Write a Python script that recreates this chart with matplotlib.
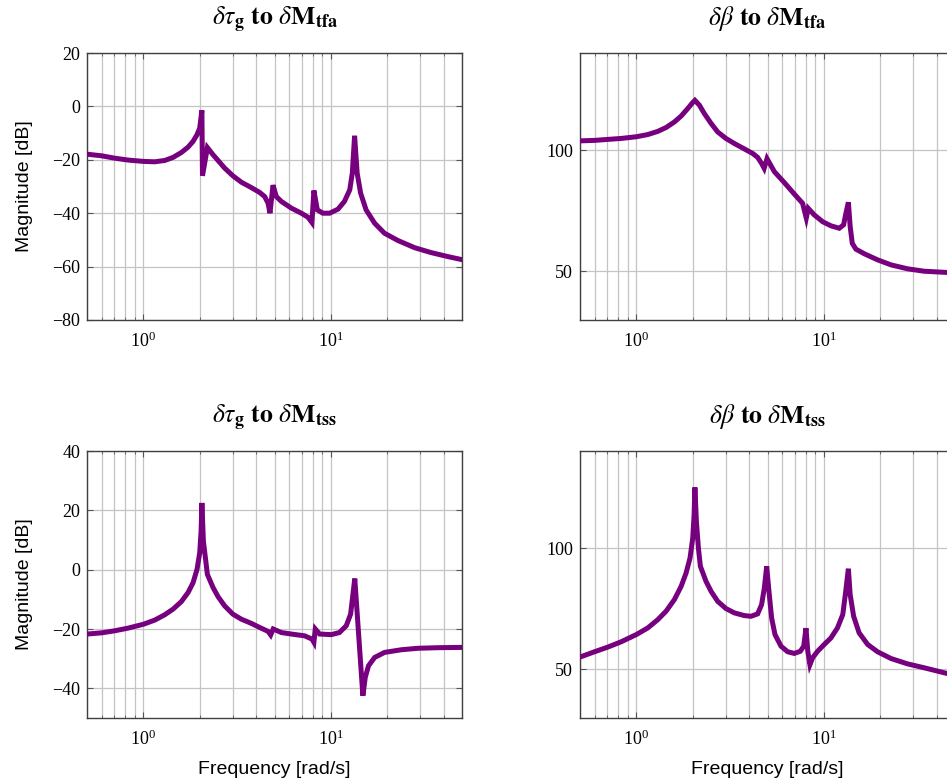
import matplotlib
matplotlib.use("Agg")
import matplotlib.pyplot as plt
from matplotlib.ticker import LogLocator, NullFormatter

plt.rcParams['font.family'] = ['Liberation Serif', 'DejaVu Serif']
plt.rcParams['mathtext.fontset'] = 'stix'
plt.rcParams['axes.unicode_minus'] = True

# delta tau_g -> delta M_tfa
w_tg_tfa = [0.5, 0.598, 0.703, 0.829, 1.0, 1.149, 1.299, 1.439, 1.594, 1.73, 1.839, 1.931, 1.996,
            2.05, 2.065, 2.193, 2.35, 2.5, 2.71, 3.0, 3.33, 3.76, 4.17, 4.43, 4.62, 4.73,
            4.91, 5.11, 5.44, 6.15, 6.95, 7.54, 7.92, 8.11, 8.46, 9.06, 9.84, 10.9, 11.8,
            12.6, 13.0, 13.37, 13.8, 14.4, 15.4, 17.1, 19.3, 22.8, 27.9, 34.2, 42.0, 50.0]
db_tg_tfa = [-17.9, -18.5, -19.4, -20.1, -20.6, -20.75, -20.25, -19.1, -17.25, -15.25, -13.1, -10.6, -8.1,
             -1.5, -26.0, -15.4, -18.1, -20.25, -23.1, -26.0, -28.4, -30.4, -32.25, -33.75, -36.25, -40.0,
             -29.5, -33.75, -35.6, -38.1, -40.0, -41.5, -43.5, -31.5, -38.75, -40.0, -40.0, -38.5, -35.6,
             -31.25, -25.0, -11.0, -25.0, -32.5, -38.75, -43.75, -47.5, -50.25, -52.9, -54.75, -56.25, -57.4]

# delta beta -> delta M_tfa
w_b_tfa = [0.5, 0.598, 0.703, 0.829, 1.0, 1.149, 1.299, 1.439, 1.594, 1.73, 1.877, 1.996, 2.05,
           2.167, 2.3, 2.5, 2.71, 3.0, 3.33, 3.76, 4.17, 4.43, 4.65, 4.8, 4.97, 5.44,
           6.15, 6.95, 7.69, 8.05, 8.25, 8.88, 9.84, 10.9, 12.07, 12.73, 13.1, 13.5, 13.8,
           14.16, 14.8, 16.4, 19.3, 22.8, 27.9, 34.2, 45.0, 50.0]
db_b_tfa = [103.8, 104.0, 104.4, 104.8, 105.5, 106.4, 107.7, 109.3, 111.6, 114.0, 117.1, 119.6, 120.5,
            118.5, 115.1, 111.0, 107.5, 104.8, 102.7, 100.5, 98.6, 97.0, 94.5, 92.5, 96.5, 91.1,
            86.6, 81.9, 78.1, 72.0, 76.0, 73.3, 70.5, 68.8, 67.8, 69.2, 74.0, 78.5, 68.5,
            61.6, 59.2, 57.3, 54.8, 52.7, 51.1, 50.1, 49.6, 49.5]

# delta tau_g -> delta M_tss
w_tg_tss = [0.5, 0.598, 0.703, 0.829, 1.0, 1.149, 1.299, 1.439, 1.594, 1.73, 1.839, 1.931, 1.996,
            2.03, 2.05, 2.088, 2.14, 2.193, 2.35, 2.5, 2.71, 3.0, 3.33, 3.76, 4.17, 4.62,
            4.77, 4.92, 5.44, 6.15, 7.24, 7.92, 8.11, 8.25, 8.7, 10.04, 11.1, 12.07, 12.73,
            13.1, 13.4, 14.8, 15.24, 15.86, 17.1, 19.3, 23.7, 29.1, 37.2, 50.0]
db_tg_tss = [-21.7, -21.3, -20.6, -19.7, -18.4, -17.0, -15.2, -13.3, -10.75, -7.7, -4.4, 0.1, 5.7,
             13.0, 22.5, 9.6, 4.0, -1.6, -6.0, -9.1, -12.2, -15.0, -16.7, -18.1, -19.5, -20.8,
             -22.0, -20.0, -21.2, -21.7, -22.3, -23.4, -24.5, -20.0, -21.7, -21.9, -21.2, -18.9, -15.0,
             -8.3, -3.0, -42.5, -36.3, -32.4, -29.6, -27.9, -27.0, -26.5, -26.3, -26.2]

# delta beta -> delta M_tss
w_b_tss = [0.5, 0.598, 0.703, 0.829, 1.0, 1.149, 1.299, 1.439, 1.594, 1.73, 1.839, 1.931, 1.996,
           2.03, 2.05, 2.088, 2.14, 2.193, 2.35, 2.5, 2.71, 3.0, 3.33, 3.76, 4.08, 4.43,
           4.65, 4.81, 4.95, 5.09, 5.26, 5.48, 5.9, 6.4, 6.95, 7.48, 7.8, 8.02, 8.2,
           8.42, 8.7, 9.25, 10.04, 10.9, 11.8, 12.6, 13.0, 13.5, 13.8, 14.4, 15.4, 17.1,
           19.3, 22.8, 27.9, 34.2, 45.0, 50.0]
db_b_tss = [55.1, 57.3, 59.2, 61.4, 64.4, 67.1, 70.5, 74.0, 78.8, 84.2, 89.7, 95.9, 104.1,
            113.7, 125.0, 111.0, 100.0, 92.5, 86.3, 82.2, 78.1, 75.1, 73.3, 72.2, 71.9, 72.9,
            76.7, 83.6, 92.5, 82.2, 71.2, 64.4, 59.6, 57.3, 56.6, 57.5, 59.6, 67.0, 57.5,
            52.0, 54.8, 57.5, 60.3, 63.0, 67.1, 72.6, 80.8, 91.5, 80.8, 71.9, 65.1, 60.3,
            57.3, 54.5, 52.3, 50.7, 48.4, 48.0]

titles = [r'$\delta\tau_{\mathbf{g}}\ \mathbf{to}\ \delta\mathbf{M}_{\mathbf{tfa}}$',
          r'$\delta\beta\ \mathbf{to}\ \delta\mathbf{M}_{\mathbf{tfa}}$',
          r'$\delta\tau_{\mathbf{g}}\ \mathbf{to}\ \delta\mathbf{M}_{\mathbf{tss}}$',
          r'$\delta\beta\ \mathbf{to}\ \delta\mathbf{M}_{\mathbf{tss}}$']

line_color = '#77007f'
W, H = 947, 784
fig = plt.figure(figsize=(W / 100, H / 100), dpi=100)

# axes boxes in pixels: left, top, right, bottom
boxes = [(87, 53, 462, 320), (580, 53, 955, 320), (87, 451, 462, 718), (580, 451, 955, 718)]
data = [(w_tg_tfa, db_tg_tfa), (w_b_tfa, db_b_tfa), (w_tg_tss, db_tg_tss), (w_b_tss, db_b_tss)]
ylims = [(-80, 20), (30, 140), (-50, 40), (30, 140)]
yticks = [[-80, -60, -40, -20, 0, 20], [50, 100], [-40, -20, 0, 20, 40], [50, 100]]

for i in range(4):
    l, t, r, b = boxes[i]
    ax = fig.add_axes([l / W, 1 - b / H, (r - l) / W, (b - t) / H])
    w, db = data[i]
    ax.semilogx(w, db, color=line_color, lw=3.6, solid_joinstyle='miter', zorder=3)
    ax.set_xlim(0.5, 50)
    ax.set_ylim(*ylims[i])
    ax.set_yticks(yticks[i])
    ax.xaxis.set_major_locator(LogLocator(base=10, numticks=10))
    ax.xaxis.set_minor_locator(LogLocator(base=10, subs=range(2, 10), numticks=20))
    ax.xaxis.set_minor_formatter(NullFormatter())
    ax.grid(True, which='major', color='#c4c4c4', lw=0.9)
    ax.grid(True, which='minor', axis='x', color='#c4c4c4', lw=0.9)
    ax.set_axisbelow(True)
    ax.tick_params(which='both', direction='in', top=True, right=True,
                   colors='#555555', labelcolor='black', labelsize=13)
    ax.tick_params(which='major', length=4, width=0.8, pad=5)
    ax.tick_params(axis='x', which='major', pad=8)
    ax.tick_params(which='minor', length=2.5, width=0.6)
    for s in ax.spines.values():
        s.set_color('#404040')
        s.set_linewidth(1.0)
    ax.set_title(titles[i], fontsize=18.5, pad=20)
    if i % 2 == 0:
        ax.set_ylabel('Magnitude [dB]', family='Liberation Sans', fontsize=14, labelpad=14)
    if i >= 2:
        ax.set_xlabel('Frequency [rad/s]', family='Liberation Sans', fontsize=14, labelpad=9)

fig.savefig('out.png', dpi=100)
